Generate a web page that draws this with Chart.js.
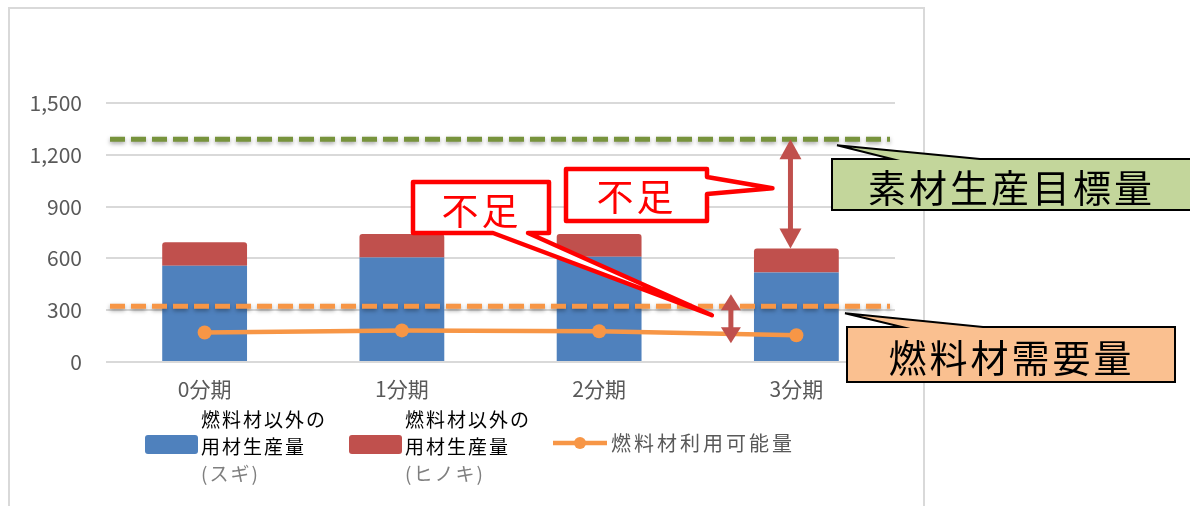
<!DOCTYPE html>
<html><head><meta charset="utf-8">
<script src="https://cdn.jsdelivr.net/npm/chart.js@4.4.0/dist/chart.umd.min.js"></script>
<style>html,body{margin:0;padding:0;background:#fff;overflow:hidden}#wrap{width:1190px;height:506px;position:relative}canvas{display:block}</style>
</head><body><div id="wrap"><canvas id="c" width="1190" height="506"></canvas></div>
<script>
// ---- data ----
const categories = ['0分期', '1分期', '2分期', '3分期'];
const sugiValues = [557, 605, 609, 519];        // 燃料材以外の用材生産量(スギ)
const hinokiValues = [136, 136, 132, 139];      // 燃料材以外の用材生産量(ヒノキ)
const fuelAvailable = [171, 183, 178, 155];     // 燃料材利用可能量
const productionTarget = 1290;                  // 素材生産目標量
const fuelDemand = 323;                         // 燃料材需要量
const yTicks = [0, 300, 600, 900, 1200, 1500];
const legendSugi = ['燃料材以外の', '用材生産量', '(スギ)'];
const legendHinoki = ['燃料材以外の', '用材生産量', '(ヒノキ)'];
const legendLine = '燃料材利用可能量';
const targetLabel = '素材生産目標量';
const demandLabel = '燃料材需要量';
const shortageLabel = '不足';
// shortage arrow 2 range (values)
const smallArrowRange = [393, 108];

const BLUE = '#4f81bd', RED = '#c0504d', ORANGE = '#f79646', GREEN = '#77933c';
const FONT = '"Noto Sans CJK JP", "Noto Sans", sans-serif';

function totals(i) { return sugiValues[i] + hinokiValues[i]; }

function drawArrow(ctx, x, y1, y2, headW, headL, shaftW) {
  ctx.save();
  ctx.fillStyle = RED; ctx.strokeStyle = RED;
  ctx.lineWidth = shaftW;
  ctx.beginPath(); ctx.moveTo(x, y1 + headL - 2); ctx.lineTo(x, y2 - headL + 2); ctx.stroke();
  ctx.beginPath(); ctx.moveTo(x, y1); ctx.lineTo(x + headW / 2, y1 + headL); ctx.lineTo(x - headW / 2, y1 + headL); ctx.closePath(); ctx.fill();
  ctx.beginPath(); ctx.moveTo(x, y2); ctx.lineTo(x + headW / 2, y2 - headL); ctx.lineTo(x - headW / 2, y2 - headL); ctx.closePath(); ctx.fill();
  ctx.restore();
}

function spacedText(ctx, text, cx, cy, spacing) {
  ctx.save();
  ctx.letterSpacing = spacing + 'px';
  const w = ctx.measureText(text).width - spacing;
  ctx.textAlign = 'left';
  ctx.fillText(text, cx - w / 2, cy);
  ctx.restore();
}

const framePlugin = {
  id: 'frame',
  beforeDraw(chart) {
    const ctx = chart.ctx;
    ctx.save();
    ctx.fillStyle = '#fff'; ctx.fillRect(0, 0, chart.width, chart.height);
    ctx.strokeStyle = '#d9d9d9'; ctx.lineWidth = 2;
    ctx.strokeRect(9, 8, 915, 600);
    ctx.restore();
  }
};

const refLinesPlugin = {
  id: 'refLines',
  afterDatasetsDraw(chart) {
    const { ctx, chartArea, scales: { y } } = chart;
    const lines = [[productionTarget, GREEN], [fuelDemand, ORANGE]];
    ctx.save();
    ctx.lineWidth = 5;
    ctx.setLineDash([15, 6]);
    ctx.shadowColor = 'rgba(0,0,0,0.35)'; ctx.shadowBlur = 4; ctx.shadowOffsetY = 2;
    for (const [v, col] of lines) {
      const py = y.getPixelForValue(v);
      ctx.strokeStyle = col;
      ctx.beginPath(); ctx.moveTo(chartArea.left + 4, py); ctx.lineTo(chartArea.right - 5, py); ctx.stroke();
    }
    ctx.restore();
  }
};

const annotPlugin = {
  id: 'annot',
  afterDraw(chart) {
    const { ctx, chartArea, scales: { x, y } } = chart;
    // arrows
    const a1x = x.getPixelForValue(2.97);
    const yT = y.getPixelForValue(productionTarget);
    const yTot = y.getPixelForValue(totals(3));
    drawArrow(ctx, a1x, yT, yTot, 22, 20, 5);
    const a2x = x.getPixelForValue(2.668);
    const yA = y.getPixelForValue(smallArrowRange[0]);
    const yB = y.getPixelForValue(smallArrowRange[1]);
    drawArrow(ctx, a2x, yA, yB, 20, 16, 5);

    ctx.save();
    ctx.lineJoin = 'round';
    // red callout 1
    let tip = [a2x - 19, y.getPixelForValue(fuelDemand) + 9];
    ctx.beginPath();
    ctx.moveTo(413, 182); ctx.lineTo(549, 182); ctx.lineTo(549, 233); ctx.lineTo(528, 233);
    ctx.lineTo(tip[0], tip[1]); ctx.lineTo(493, 233); ctx.lineTo(413, 233); ctx.closePath();
    ctx.fillStyle = '#fff'; ctx.fill();
    ctx.strokeStyle = '#ff0000'; ctx.lineWidth = 4.5; ctx.stroke();
    // red callout 2
    tip = [a1x - 18, yT + 49];
    ctx.beginPath();
    ctx.moveTo(566, 169); ctx.lineTo(707, 169); ctx.lineTo(707, 177); ctx.lineTo(tip[0], tip[1]);
    ctx.lineTo(707, 194); ctx.lineTo(707, 221); ctx.lineTo(566, 221); ctx.closePath();
    ctx.fill(); ctx.stroke();
    ctx.fillStyle = '#ff0000';
    ctx.font = '37px ' + FONT; ctx.textBaseline = 'middle';
    spacedText(ctx, shortageLabel, 480, 211, 3);
    spacedText(ctx, shortageLabel, 635, 197, 3);

    // green callout
    tip = [chartArea.right - 58, yT + 6];
    ctx.lineJoin = 'miter';
    ctx.beginPath();
    ctx.moveTo(832, 159); ctx.lineTo(892, 159); ctx.lineTo(tip[0], tip[1]); ctx.lineTo(980, 159);
    ctx.lineTo(1196, 159); ctx.lineTo(1196, 210); ctx.lineTo(832, 210); ctx.closePath();
    ctx.fillStyle = '#c3d69b'; ctx.fill();
    ctx.strokeStyle = '#000'; ctx.lineWidth = 2; ctx.stroke();
    ctx.fillStyle = '#000'; ctx.font = '38px ' + FONT;
    spacedText(ctx, targetLabel, 1010, 188, 3);

    // orange callout
    tip = [chartArea.right - 50, y.getPixelForValue(fuelDemand) + 7];
    ctx.beginPath();
    ctx.moveTo(847, 327); ctx.lineTo(902, 327); ctx.lineTo(tip[0], tip[1]); ctx.lineTo(983, 327);
    ctx.lineTo(1175, 327); ctx.lineTo(1175, 382); ctx.lineTo(847, 382); ctx.closePath();
    ctx.fillStyle = '#fac090'; ctx.fill();
    ctx.strokeStyle = '#000'; ctx.lineWidth = 2; ctx.stroke();
    ctx.fillStyle = '#000'; ctx.font = '38px ' + FONT;
    spacedText(ctx, demandLabel, 1010, 358, 3);
    ctx.restore();

    // legend
    ctx.save();
    ctx.textBaseline = 'middle'; ctx.textAlign = 'left';
    const items = [[145, BLUE, legendSugi], [349, RED, legendHinoki]];
    for (const [lx, col, lines] of items) {
      ctx.fillStyle = col;
      ctx.beginPath(); ctx.roundRect(lx, 435, 53, 19, 3); ctx.fill();
      ctx.font = '19px ' + FONT; ctx.letterSpacing = '2px';
      ctx.fillStyle = '#000';
      ctx.fillText(lines[0], lx + 56, 420);
      ctx.fillText(lines[1], lx + 56, 447);
      ctx.fillStyle = '#7f7f7f';
      ctx.fillText(lines[2], lx + 56, 474);
    }
    ctx.strokeStyle = ORANGE; ctx.lineWidth = 4.5;
    ctx.beginPath(); ctx.moveTo(553, 443); ctx.lineTo(607, 443); ctx.stroke();
    ctx.fillStyle = ORANGE; ctx.beginPath(); ctx.arc(580, 443, 6, 0, Math.PI * 2); ctx.fill();
    ctx.fillStyle = '#595959'; ctx.font = '20px ' + FONT; ctx.letterSpacing = '3px';
    ctx.fillText(legendLine, 611, 443);
    ctx.restore();
  }
};

new Chart(document.getElementById('c'), {
  data: {
    labels: categories,
    datasets: [
      { type: 'line', label: legendLine, data: fuelAvailable, borderColor: ORANGE, backgroundColor: ORANGE,
        borderWidth: 4.5, pointRadius: 7, pointBackgroundColor: ORANGE, pointBorderWidth: 0, order: 0 },
      { type: 'bar', label: legendSugi.join(''), data: sugiValues, backgroundColor: BLUE, stack: 's', order: 1,
        categoryPercentage: 1, barPercentage: 0.43 },
      { type: 'bar', label: legendHinoki.join(''), data: hinokiValues, backgroundColor: RED, stack: 's', order: 2,
        categoryPercentage: 1, barPercentage: 0.43, borderRadius: { topLeft: 3, topRight: 3 }, borderSkipped: 'bottom' }
    ]
  },
  options: {
    responsive: false, animation: false, devicePixelRatio: 1,
    layout: { padding: { left: 0, right: 295, top: 103, bottom: 104 } },
    plugins: { legend: { display: false }, tooltip: { enabled: false } },
    scales: {
      x: {
        stacked: true,
        grid: { display: false, drawTicks: false }, border: { display: false },
        ticks: { color: '#595959', font: { family: FONT, size: 21 }, padding: 14, maxRotation: 0 },
        afterFit(s) { s.height = 40; }
      },
      y: {
        stacked: true, min: 0, max: 1500,
        afterBuildTicks(s) { s.ticks = yTicks.map(v => ({ value: v })); },
        grid: { color: '#d9d9d9', lineWidth: 2, drawTicks: false }, border: { display: false },
        ticks: { color: '#595959', font: { family: FONT, size: 21 }, padding: 24,
          callback: v => v.toLocaleString('en-US') },
        afterFit(s) { s.width = 106; }
      }
    }
  },
  plugins: [framePlugin, refLinesPlugin, annotPlugin]
});
</script></body></html>
